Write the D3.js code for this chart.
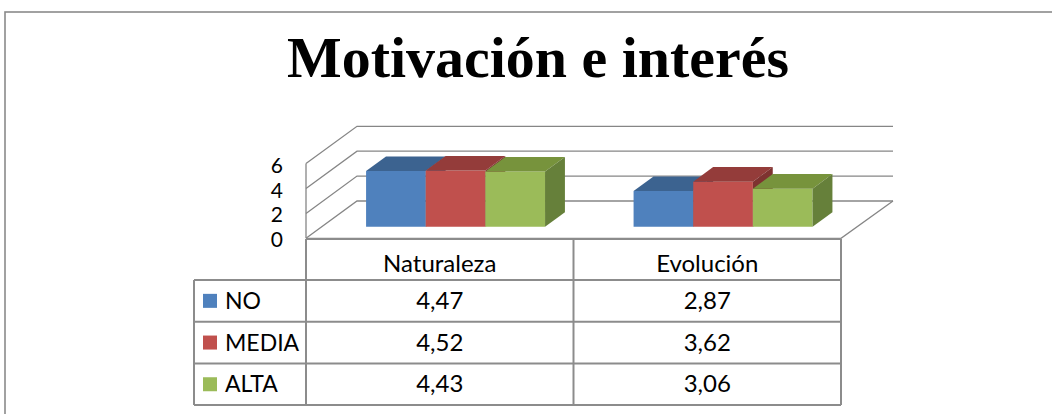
<!DOCTYPE html>
<html>
<head>
<meta charset="utf-8">
<script src="https://cdn.jsdelivr.net/npm/d3@7"></script>
<style>
  body { margin: 0; background: #fff; }
  svg { display: block; }
</style>
</head>
<body>
<div id="chart"></div>
<script>
var categories = ["Naturaleza", "Evolución"];
var series = ["NO", "MEDIA", "ALTA"];
var valuesNO = [4.47, 2.87];
var valuesMEDIA = [4.52, 3.62];
var valuesALTA = [4.43, 3.06];
var yTicks = [0, 2, 4, 6];
var labelsNO = ["4,47", "2,87"];
var labelsMEDIA = ["4,52", "3,62"];
var labelsALTA = ["4,43", "3,06"];

var W = 1052, H = 414;
var seriesValues = [valuesNO, valuesMEDIA, valuesALTA];
var seriesLabels = [labelsNO, labelsMEDIA, labelsALTA];
var colors = {
  front: ["#4F81BD", "#C0504D", "#9BBB59"],
  top:   ["#3C6390", "#943C3A", "#77933C"],
  side:  ["#33557C", "#7E3230", "#66803A"]
};

var svg = d3.select('#chart').append('svg')
  .attr('width', W)
  .attr('height', H);

// outer frame (runs off the right/bottom edge)
svg.append('rect')
  .attr('x', 5).attr('y', 12)
  .attr('width', W + 20).attr('height', H + 20)
  .attr('fill', 'none')
  .attr('stroke', '#8a8a8a')
  .attr('stroke-width', 1.6);

svg.append('text')
  .text('Motivación e interés')
  .attr('x', 538)
  .attr('y', 77)
  .attr('text-anchor', 'middle')
  .attr('textLength', 502)
  .attr('lengthAdjust', 'spacingAndGlyphs')
  .attr('font-family', '"Liberation Serif", "Times New Roman", serif')
  .attr('font-weight', 'bold')
  .attr('font-size', '56px')
  .attr('fill', '#000');

// 3D projection: z in [0,1] goes from front plane to back wall
var DX = 51, DY = 37.3;
var y = d3.scaleLinear().domain([0, 6]).range([238.3, 163.6]);
var x = d3.scaleBand().domain(categories).range([306, 841])
  .paddingInner(0.331).paddingOuter(0.1655);
var xs = d3.scaleBand().domain(series).range([0, x.bandwidth()]);
var z0 = 0.31, z1 = 0.70;

function proj(px, v, z) {
  return [px + z * DX, y(v) - z * DY];
}
function poly(pts) {
  return 'M' + pts.map(function(p){ return p[0] + ',' + p[1]; }).join('L') + 'Z';
}

var grid = svg.append('g').attr('class', 'walls');
var left = x.range()[0], right = x.range()[1];

yTicks.forEach(function(t){
  var pts = [proj(left, t, 0), proj(left, t, 1), proj(right + 1, t, 1)];
  grid.append('path')
    .attr('d', 'M' + pts.map(function(p){ return p[0] + ',' + p[1]; }).join('L'))
    .attr('fill', 'none')
    .attr('stroke', '#868686')
    .attr('stroke-width', 1.3);
});
// left wall front edge
grid.append('line')
  .attr('x1', left).attr('x2', left)
  .attr('y1', y(0)).attr('y2', y(6))
  .attr('stroke', '#868686').attr('stroke-width', 1.3);
// floor front and right edges
var f0 = proj(left, 0, 0), f1 = proj(right, 0, 0), f2 = proj(right + 1, 0, 1);
grid.append('path')
  .attr('d', 'M' + f0 + 'L' + f1 + 'L' + f2)
  .attr('fill', 'none')
  .attr('stroke', '#868686').attr('stroke-width', 1.3);

// y axis labels
svg.append('g').selectAll('text')
  .data(yTicks)
  .enter()
    .append('text')
      .text(function(d){ return d; })
      .attr('x', 283)
      .attr('y', function(d){ return y(d) + 9; })
      .attr('text-anchor', 'end')
      .attr('font-family', 'Lato, "Open Sans", sans-serif')
      .attr('font-size', '21px')
      .attr('fill', '#000');

// bars
var bars = svg.append('g').attr('class', 'bars');
categories.forEach(function(cat, ci){
  series.forEach(function(s, si){
    var v = seriesValues[si][ci];
    var xa = x(cat) + xs(s), xb = xa + xs.bandwidth();
    var g = bars.append('g');
    g.append('path')
      .attr('d', poly([proj(xa, v, z0), proj(xb, v, z0), proj(xb, 0, z0), proj(xa, 0, z0)]))
      .attr('fill', colors.front[si]);
    g.append('path')
      .attr('d', poly([proj(xa, v, z0), proj(xb, v, z0), proj(xb, v, z1), proj(xa, v, z1)]))
      .attr('fill', colors.top[si]);
    g.append('path')
      .attr('d', poly([proj(xb, v, z0), proj(xb, v, z1), proj(xb, 0, z1), proj(xb, 0, z0)]))
      .attr('fill', colors.side[si]);
  });
});

// data table
var rowTop = 239, headerH = 41, rowH = 41.7, legendLeft = 194;
var table = svg.append('g').attr('class', 'table');
var lineStyle = function(sel){ return sel.attr('stroke', '#8c8c8c').attr('stroke-width', 2); };
var colEdges = [left].concat(categories.map(function(c){ return x(c) + x.bandwidth() / 2 + x.step() / 2; }));
var tableBottom = rowTop + headerH + rowH * series.length;

colEdges.forEach(function(cx){
  table.append('line').attr('x1', cx).attr('x2', cx)
    .attr('y1', rowTop).attr('y2', tableBottom).call(lineStyle);
});
table.append('line').attr('x1', legendLeft).attr('x2', legendLeft)
  .attr('y1', rowTop + headerH).attr('y2', tableBottom).call(lineStyle);
table.append('line').attr('x1', left).attr('x2', right)
  .attr('y1', rowTop).attr('y2', rowTop).call(lineStyle);
d3.range(series.length + 1).forEach(function(i){
  var yy = rowTop + headerH + rowH * i;
  table.append('line').attr('x1', legendLeft).attr('x2', right)
    .attr('y1', yy).attr('y2', yy).call(lineStyle);
});

var font = 'Lato, "Open Sans", sans-serif';
table.selectAll('text.cat')
  .data(categories)
  .enter()
    .append('text')
      .attr('class', 'cat')
      .text(function(d){ return d; })
      .attr('x', function(d){ return x(d) + x.bandwidth() / 2; })
      .attr('y', rowTop + 33)
      .attr('text-anchor', 'middle')
      .attr('font-family', font)
      .attr('font-size', '24px');

series.forEach(function(s, si){
  var cy = rowTop + headerH + rowH * si + rowH / 2;
  table.append('rect')
    .attr('x', 203).attr('y', cy - 7)
    .attr('width', 14).attr('height', 14)
    .attr('fill', colors.front[si]);
  table.append('text')
    .text(s)
    .attr('x', 225)
    .attr('y', cy + 8)
    .attr('font-family', font)
    .attr('font-size', '23px');
  categories.forEach(function(cat, ci){
    table.append('text')
      .text(seriesLabels[si][ci])
      .attr('x', x(cat) + x.bandwidth() / 2)
      .attr('y', cy + 8)
      .attr('text-anchor', 'middle')
      .attr('font-family', font)
      .attr('font-size', '24px');
  });
});
</script>
</body>
</html>
